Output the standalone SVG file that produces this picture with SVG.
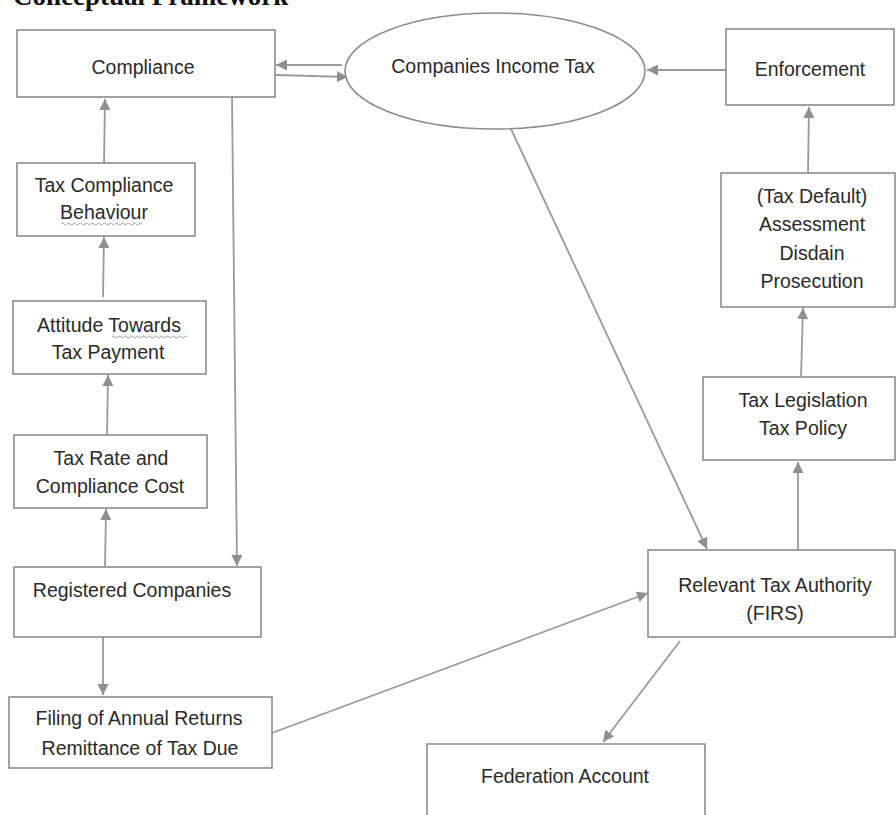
<svg xmlns="http://www.w3.org/2000/svg" width="896" height="815" viewBox="0 0 896 815">
<style>
.box{fill:#fff;stroke:#8c8c8c;stroke-width:1.6}
.t{font-family:"Liberation Sans",Arial,sans-serif;font-size:19.5px;fill:#2a2a2a;text-anchor:middle}
.c{fill:none;stroke:#9a9a9a;stroke-width:1.8}
.w{fill:none;stroke:#a0a0a0;stroke-width:1}
</style>
<defs>
<marker id="ah" viewBox="0 0 10 10" refX="10" refY="5" markerWidth="12" markerHeight="11" markerUnits="userSpaceOnUse" orient="auto">
<path d="M0,0 L10,5 L0,10 Z" fill="#8f8f8f"/>
</marker>
</defs>
<rect width="896" height="815" fill="#fff"/>
<text x="13" y="5" font-family="'Liberation Serif','Times New Roman',serif" font-weight="bold" font-size="27" fill="#111">Conceptual Framework</text>

<g id="connectors">
<line class="c" x1="342" y1="65" x2="276" y2="65" marker-end="url(#ah)"/>
<line class="c" x1="276" y1="75" x2="348" y2="77" marker-end="url(#ah)"/>
<line class="c" x1="726" y1="70" x2="647" y2="70" marker-end="url(#ah)"/>
<line class="c" x1="104" y1="163" x2="105" y2="99" marker-end="url(#ah)"/>
<line class="c" x1="103" y1="297" x2="104" y2="237" marker-end="url(#ah)"/>
<line class="c" x1="107" y1="435" x2="108" y2="375" marker-end="url(#ah)"/>
<line class="c" x1="105" y1="566" x2="106" y2="509" marker-end="url(#ah)"/>
<line class="c" x1="232" y1="97" x2="237" y2="566" marker-end="url(#ah)"/>
<line class="c" x1="103" y1="637" x2="103" y2="695" marker-end="url(#ah)"/>
<line class="c" x1="272" y1="733" x2="648" y2="593" marker-end="url(#ah)"/>
<line class="c" x1="680" y1="641" x2="603" y2="742" marker-end="url(#ah)"/>
<line class="c" x1="798" y1="550" x2="798" y2="462" marker-end="url(#ah)"/>
<line class="c" x1="801" y1="377" x2="803" y2="308" marker-end="url(#ah)"/>
<line class="c" x1="808" y1="172" x2="809" y2="107" marker-end="url(#ah)"/>
<line class="c" x1="511" y1="129" x2="707" y2="549" marker-end="url(#ah)"/>
</g>

<g id="compliance">
<rect class="box" x="17" y="30" width="258" height="67"/>
<text class="t" x="143" y="74">Compliance</text>
</g>
<g id="companies-income-tax">
<ellipse class="box" cx="495" cy="71" rx="150" ry="58"/>
<text class="t" x="493" y="73">Companies Income Tax</text>
</g>
<g id="enforcement">
<rect class="box" x="726" y="29" width="168" height="76"/>
<text class="t" x="810" y="76">Enforcement</text>
</g>
<g id="tax-compliance-behaviour">
<rect class="box" x="17" y="163" width="178" height="73"/>
<text class="t" x="104" y="192">Tax Compliance</text>
<text class="t" x="104" y="219">Behaviour</text>
<path class="w" d="M61,224 q1.5,-2 3,0 t3,0 t3,0 t3,0 t3,0 t3,0 t3,0 t3,0 t3,0 t3,0 t3,0 t3,0 t3,0 t3,0 t3,0 t3,0 t3,0 t3,0 t3,0 t3,0 t3,0 t3,0 t3,0 t3,0 t3,0 t3,0 t3,0"/>
</g>
<g id="attitude">
<rect class="box" x="13" y="301" width="193" height="73"/>
<text class="t" x="109" y="332">Attitude  Towards</text>
<text class="t" x="108" y="359">Tax Payment</text>
<path class="w" d="M112,337 q1.5,-2 3,0 t3,0 t3,0 t3,0 t3,0 t3,0 t3,0 t3,0 t3,0 t3,0 t3,0 t3,0 t3,0 t3,0 t3,0 t3,0 t3,0 t3,0 t3,0 t3,0 t3,0 t3,0 t3,0 t3,0 t3,0"/>
</g>
<g id="tax-rate">
<rect class="box" x="14" y="435" width="193" height="73"/>
<text class="t" x="111" y="465">Tax Rate and</text>
<text class="t" x="110" y="493">Compliance Cost</text>
</g>
<g id="registered-companies">
<rect class="box" x="14" y="567" width="247" height="70"/>
<text class="t" x="132" y="597">Registered Companies</text>
</g>
<g id="filing">
<rect class="box" x="9" y="697" width="263" height="71"/>
<text class="t" x="139" y="725">Filing of Annual  Returns</text>
<text class="t" x="140" y="755">Remittance of Tax Due</text>
</g>
<g id="tax-default">
<rect class="box" x="721" y="173" width="174" height="134"/>
<text class="t" x="812" y="203">(Tax Default)</text>
<text class="t" x="812" y="231">Assessment</text>
<text class="t" x="812" y="260">Disdain</text>
<text class="t" x="812" y="288">Prosecution</text>
</g>
<g id="tax-legislation">
<rect class="box" x="703" y="377" width="192" height="83"/>
<text class="t" x="803" y="407">Tax Legislation</text>
<text class="t" x="803" y="435">Tax Policy</text>
</g>
<g id="relevant-tax-authority">
<rect class="box" x="648" y="550" width="247" height="87"/>
<text class="t" x="775" y="592">Relevant Tax Authority</text>
<text class="t" x="775" y="620">(FIRS)</text>
</g>
<g id="federation-account">
<path class="box" d="M427,816 V744 H705 V816"/>
<text class="t" x="565" y="783">Federation Account</text>
</g>
</svg>
